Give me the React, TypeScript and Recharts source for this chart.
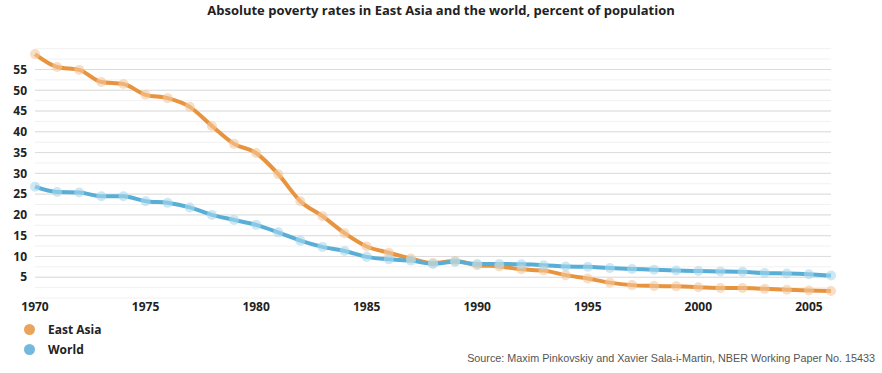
import React from 'react'
import { LineChart, Line, XAxis, YAxis, CartesianGrid, ReferenceLine } from 'recharts'

// years 1970-2006
const years = [
  1970, 1971, 1972, 1973, 1974, 1975, 1976, 1977, 1978, 1979,
  1980, 1981, 1982, 1983, 1984, 1985, 1986, 1987, 1988, 1989,
  1990, 1991, 1992, 1993, 1994, 1995, 1996, 1997, 1998, 1999,
  2000, 2001, 2002, 2003, 2004, 2005, 2006
]

const eastAsia = [
  58.7, 55.6, 54.9, 52.0, 51.5, 48.9, 48.1, 46.0, 41.4, 37.1,
  34.9, 29.8, 23.3, 19.7, 15.6, 12.4, 10.9, 9.5, 8.4, 8.9,
  7.9, 7.6, 6.9, 6.6, 5.5, 4.7, 3.7, 3.1, 2.9, 2.8,
  2.6, 2.4, 2.4, 2.2, 2.0, 1.8, 1.7
]

const world = [
  26.8, 25.5, 25.4, 24.5, 24.5, 23.3, 22.9, 21.8, 20.0, 18.8,
  17.6, 15.8, 13.8, 12.3, 11.3, 9.9, 9.3, 9.0, 8.2, 8.7,
  8.2, 8.2, 8.1, 7.9, 7.6, 7.5, 7.2, 7.0, 6.8, 6.6,
  6.5, 6.4, 6.3, 6.0, 5.9, 5.7, 5.4
]

const xTicks = [1970, 1975, 1980, 1985, 1990, 1995, 2000, 2005]
const minorTicks = [2.5, 7.5, 12.5, 17.5, 22.5, 27.5, 32.5, 37.5, 42.5, 47.5, 52.5, 57.5]
const majorTicks = [5, 10, 15, 20, 25, 30, 35, 40, 45, 50, 55]

const ORANGE = '#e8943f'
const BLUE = '#58aed6'

const data = years.map((year, i) => ({ year, eastAsia: eastAsia[i], world: world[i] }))

const font = '"Open Sans", "Noto Sans", sans-serif'

function LegendBox() {
  const items = [
    { name: 'East Asia', color: ORANGE },
    { name: 'World', color: BLUE },
  ]
  return (
    <div style={{ position: 'absolute', left: 0, top: 319 }}>
      {items.map(it => (
        <div key={it.name} style={{ display: 'flex', alignItems: 'center', height: 20 }}>
          <span style={{ width: 11, height: 11, borderRadius: '50%', background: it.color, opacity: 0.85, marginLeft: 24, marginRight: 13 }} />
          <span style={{ fontFamily: font, fontWeight: 700, fontSize: 12, color: '#222' }}>{it.name}</span>
        </div>
      ))}
    </div>
  )
}

export default function App() {
  return (
    <div style={{ position: 'absolute', left: 0, top: 0, width: 882, height: 373, background: '#fff' }}>
      <div style={{ position: 'absolute', left: 0, top: 1, width: 882, textAlign: 'center', fontFamily: font, fontWeight: 700, fontSize: 13, color: '#222' }}>
        Absolute poverty rates in East Asia and the world, percent of population
      </div>
      <LineChart width={882} height={373} data={data} margin={{ top: 48.7, right: 51, bottom: 45, left: 5 }}>
        <CartesianGrid vertical={false} stroke="#f1f1f1" strokeWidth={1} />
        {majorTicks.map(t => (
          <ReferenceLine key={t} y={t} stroke="#dcdcdc" strokeWidth={1} />
        ))}
        <XAxis
          dataKey="year"
          type="number"
          domain={[1970, 2006]}
          ticks={xTicks}
          interval={0}
          height={30}
          axisLine={false}
          tickLine={false}
          tickSize={0}
          tickMargin={4}
          tick={{ fill: '#222', fontSize: 12, fontWeight: 700, fontFamily: font }}
        />
        <YAxis
          type="number"
          domain={[0, 60]}
          ticks={[...minorTicks, ...majorTicks].sort((a, b) => a - b)}
          interval={0}
          width={30}
          axisLine={false}
          tickLine={false}
          tickFormatter={(v: number) => (v % 5 === 0 ? String(v) : '')}
          tick={{ fill: '#222', fontSize: 12, fontWeight: 700, fontFamily: font }}
        />
        <Line
          type="monotone"
          dataKey="eastAsia"
          name="East Asia"
          stroke={ORANGE}
          strokeWidth={4}
          dot={{ r: 5, fill: '#f4c89c', fillOpacity: 0.6, stroke: 'none' }}
          activeDot={false}
          isAnimationActive={false}
        />
        <Line
          type="monotone"
          dataKey="world"
          name="World"
          stroke={BLUE}
          strokeWidth={4}
          dot={{ r: 5, fill: '#aad8ec', fillOpacity: 0.6, stroke: 'none' }}
          activeDot={false}
          isAnimationActive={false}
        />
      </LineChart>
      <LegendBox />
      <div style={{ position: 'absolute', right: 7, top: 352, fontFamily: '"Liberation Sans", Arial, sans-serif', fontSize: 10.8, color: '#555' }}>
        Source: Maxim Pinkovskiy and Xavier Sala-i-Martin, NBER Working Paper No. 15433
      </div>
    </div>
  )
}
